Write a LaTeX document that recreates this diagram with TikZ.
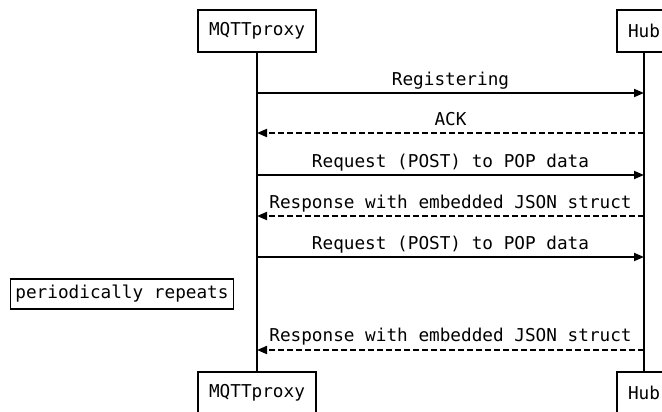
\documentclass[tikz,border=0pt]{standalone}
\usepackage{fontspec}
\setmonofont{DejaVu Sans Mono}
\usetikzlibrary{arrows.meta}

\begin{document}
\begin{tikzpicture}[x=1pt, y=-1pt, line width=1.8pt,
    font=\ttfamily\fontsize{17.7}{20}\selectfont,
    actor/.style={draw, fill=white, inner xsep=11pt, minimum height=42pt},
    notebox/.style={draw, inner xsep=5pt, minimum height=30pt},
    msg/.style={-{Triangle[length=10pt, width=8pt]}},
    reply/.style={msg, dash pattern=on 6pt off 3pt},
    msglabel/.style={anchor=base, inner sep=0pt}]

  \useasboundingbox (0,0) rectangle (662,412);

  % ── lifelines ──────────────────────────────────────────────────────────
  \def\xp{257}\def\xh{644}

  \node[actor] (proxytop) at (\xp,31)  {MQTTproxy};
  \node[actor] (hubtop)   at (\xh,31)  {Hub};
  \node[actor] (proxybot) at (\xp,393) {MQTTproxy};
  \node[actor] (hubbot)   at (\xh,393) {Hub};

  \draw (proxytop.south) -- (proxybot.north);
  \draw (hubtop.south) -- (hubbot.north);

  % ── message anchors on both lifelines ───────────────────────────────────
  \foreach \n/\y in {1/93, 2/133, 3/175, 4/216, 5/257, 6/350}{
    \coordinate (p\n) at (\xp,\y);
    \coordinate (h\n) at (\xh,\y);
  }

  % ── messages ────────────────────────────────────────────────────────────
  \draw[msg]   (p1) -- (h1) node[msglabel, midway, yshift=8pt] {Registering};
  \draw[reply] (h2) -- (p2) node[msglabel, midway, yshift=8pt] {ACK};
  \draw[msg]   (p3) -- (h3) node[msglabel, midway, yshift=8pt] {Request (POST) to POP data};
  \draw[reply] (h4) -- (p4) node[msglabel, midway, yshift=8pt] {Response with embedded JSON struct};
  \draw[msg]   (p5) -- (h5) node[msglabel, midway, yshift=8pt] {Request (POST) to POP data};
  \draw[reply] (h6) -- (p6) node[msglabel, midway, yshift=9pt] {Response with embedded JSON struct};

  % ── note ────────────────────────────────────────────────────────────────
  \node[notebox] (repeat) at (122,294) {periodically repeats};

\end{tikzpicture}
\end{document}
